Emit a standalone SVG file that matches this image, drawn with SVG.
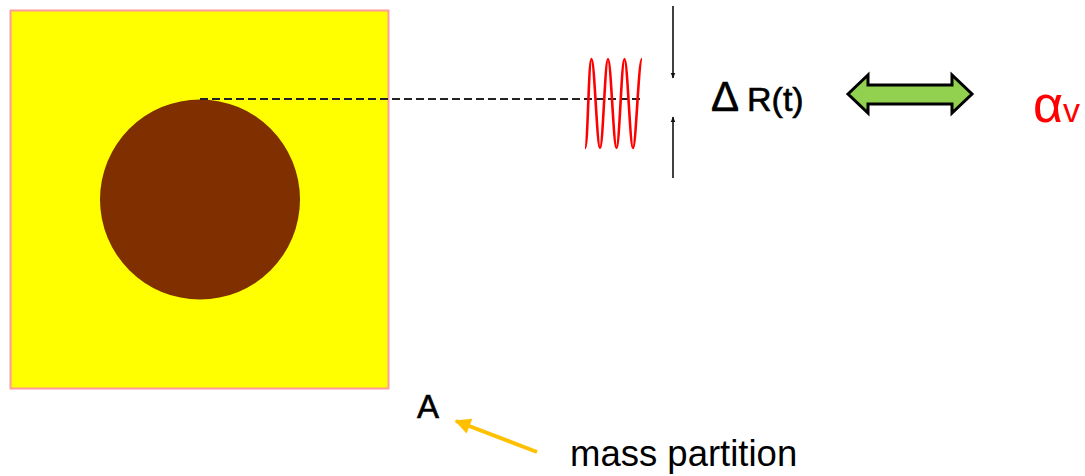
<svg xmlns="http://www.w3.org/2000/svg" width="1085" height="476" viewBox="0 0 1085 476">
<style>
.txt{font-family:"Liberation Sans",Arial,sans-serif;fill:#000}
.bitmap{stroke:#000;stroke-width:0.6}
.vline{stroke:#111;stroke-width:1.6;fill:none}
</style>
<defs>
<marker id="blk" viewBox="0 0 10 10" refX="9" refY="5" markerWidth="6" markerHeight="10" markerUnits="userSpaceOnUse" orient="auto">
<path d="M0,1 L10,5 L0,9 Z" fill="#111"/>
</marker>
<marker id="ylw" viewBox="0 0 10 10" refX="9" refY="5" markerWidth="18" markerHeight="16" markerUnits="userSpaceOnUse" orient="auto">
<path d="M0,0 L10,5 L0,10 Z" fill="#FFC000"/>
</marker>
</defs>
<rect width="1085" height="476" fill="#fff"/>
<g id="block">
<rect x="10.5" y="10.5" width="378" height="378" fill="#FFFF00" stroke="#FF9C9C" stroke-width="2"/>
<circle cx="200" cy="199.5" r="100" fill="#7F2F00"/>
</g>
<g id="connectors">
<line x1="200" y1="99" x2="640" y2="99" stroke="#222" stroke-width="2.2" stroke-dasharray="8,4"/>
<line class="vline" x1="673" y1="6" x2="673" y2="78" marker-end="url(#blk)"/>
<line class="vline" x1="673" y1="178" x2="673" y2="117" marker-end="url(#blk)"/>
<line x1="537" y1="452" x2="456" y2="421" stroke="#FFC000" stroke-width="4" marker-end="url(#ylw)"/>
</g>
<g id="wave">
<path d="M585,148 C588,148 588.5,59 591.5,59 C594.5,59 597,148 600,148 C603,148 605,59 608,59 C611,59 613.5,148 616.5,148 C619.5,148 621.5,59 624.5,59 C627.5,59 630,148 633,148 C636,148 638.5,59 642,59" fill="none" stroke="#FF0000" stroke-width="2.6"/>
</g>
<g id="deltaR">
<text class="txt bitmap" y="111"><tspan x="711" font-size="42">Δ</tspan><tspan x="747" font-size="34">R(t)</tspan></text>
</g>
<g id="doubleArrow">
<polygon points="848,94 868,75 868,85 952,85 952,75 972,94 952,113 952,104 868,104 868,113" fill="#92D050" stroke="#000" stroke-width="3" stroke-linejoin="miter"/>
</g>
<g id="alpha">
<text y="122" font-family="Liberation Sans,Arial,sans-serif" fill="#FF0000"><tspan x="1033" font-size="52">α</tspan><tspan font-size="34">v</tspan></text>
</g>
<g id="labelA">
<text class="txt bitmap" x="417" y="418" font-size="33">A</text>
</g>
<g id="massPartition">
<text class="txt" x="570" y="466" font-size="36.5">mass partition</text>
</g>
</svg>
